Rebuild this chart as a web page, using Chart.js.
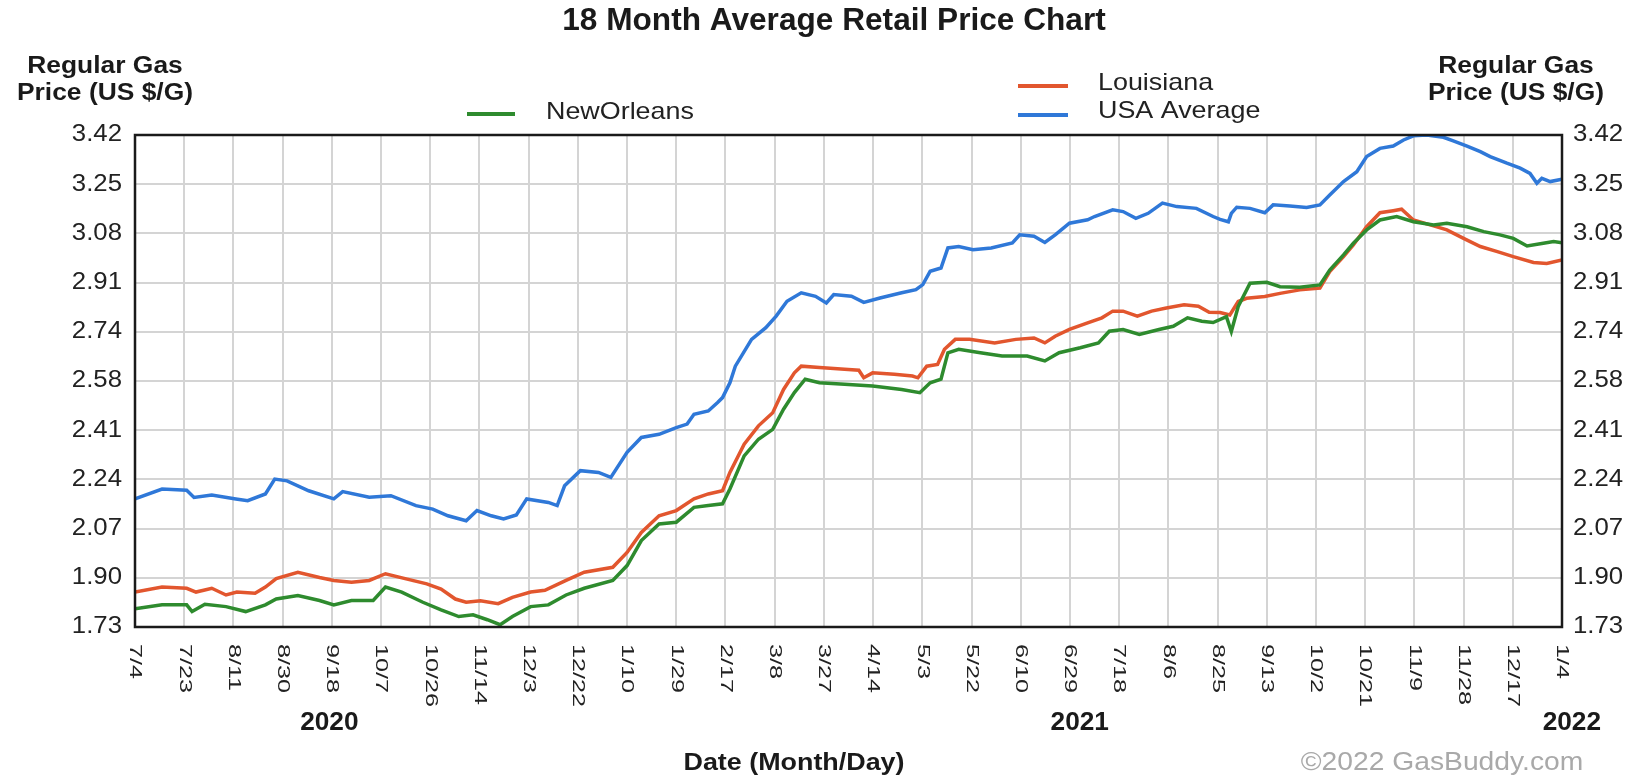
<!DOCTYPE html>
<html>
<head>
<meta charset="utf-8">
<title>18 Month Average Retail Price Chart</title>
<script src="https://cdn.jsdelivr.net/npm/chart.js@4.4.0/dist/chart.umd.min.js"></script>
<style>
    html, body { margin: 0; padding: 0; background: #fff; }
    #wrap { width: 1644px; height: 779px; }
</style>
</head>
<body>
<div id="wrap"><canvas id="gasChart" width="1644" height="779"></canvas></div>
<script>
// x axis: 30 gridlines, one every ~19 days from 7/4/2020 to 1/4/2022
const xLabels = ['7/4', '7/23', '8/11', '8/30', '9/18', '10/7', '10/26', '11/14', '12/3', '12/22',
    '1/10', '1/29', '2/17', '3/8', '3/27', '4/14', '5/3', '5/22', '6/10', '6/29',
    '7/18', '8/6', '8/25', '9/13', '10/2', '10/21', '11/9', '11/28', '12/17', '1/4'];
const yearLabels = ['2020', '2021', '2022'];
const yearPos = [3.95, 19.2, 29.2];

// y axis ticks (US $/G)
const yTickValues = [1.73, 1.899, 2.068, 2.237, 2.406, 2.575, 2.744, 2.913, 3.082, 3.251, 3.42];
const yTickLabels = ['1.73', '1.90', '2.07', '2.24', '2.41', '2.58', '2.74', '2.91', '3.08', '3.25', '3.42'];

// NewOrleans (x in gridline units, 0 = 7/4/2020)
const noX = [0, 0.55, 1.05, 1.16, 1.42, 1.85, 2.25, 2.65, 2.87, 3.31, 3.75, 4.04, 4.4, 4.84, 5.09, 5.42, 5.85,
    6.22, 6.58, 6.87, 7.16, 7.42, 7.67, 8.04, 8.4, 8.76, 9.13, 9.71, 10, 10.29, 10.65,
    11, 11.36, 11.65, 11.94, 12.09, 12.38, 12.67, 12.96, 13.18, 13.4, 13.62, 13.91, 14.42, 14.99, 15.58,
    15.95, 16.16, 16.38, 16.52, 16.74, 17.18, 17.62, 18.13, 18.49, 18.78, 19.21, 19.58, 19.8, 20.08,
    20.41, 20.81, 21.1, 21.39, 21.68, 21.91, 22.18, 22.28, 22.42, 22.66, 23.0, 23.27, 23.67, 24.08,
    24.28, 24.56, 24.76, 25.03, 25.3, 25.64, 25.98, 26.39, 26.66, 27.07, 27.41, 27.74, 28.01, 28.29,
    28.62, 28.83, 29];
const noY = [1.793, 1.806, 1.806, 1.783, 1.808, 1.80, 1.783, 1.806, 1.826, 1.838, 1.821, 1.806, 1.821, 1.821, 1.867, 1.85, 1.815,
    1.789, 1.766, 1.772, 1.755, 1.738, 1.766, 1.80, 1.806, 1.84, 1.863, 1.89, 1.941, 2.027, 2.084,
    2.09, 2.141, 2.147, 2.153, 2.204, 2.318, 2.375, 2.409, 2.478, 2.535, 2.581, 2.569, 2.564, 2.558, 2.546,
    2.535, 2.569, 2.581, 2.672, 2.684, 2.672, 2.661, 2.661, 2.644, 2.672, 2.689, 2.706, 2.746, 2.752,
    2.735, 2.752, 2.763, 2.792, 2.78, 2.776, 2.796, 2.745, 2.831, 2.911, 2.914, 2.899, 2.897, 2.905,
    2.956, 3.008, 3.048, 3.094, 3.128, 3.14, 3.122, 3.111, 3.117, 3.105, 3.088, 3.077, 3.065, 3.039,
    3.048, 3.054, 3.05];

// Louisiana
const laX = [0, 0.55, 1.05, 1.24, 1.56, 1.85, 2.07, 2.44, 2.65, 2.87, 3.31, 3.75, 4.04, 4.4, 4.76, 5.09, 5.49,
    5.93, 6.22, 6.51, 6.73, 7.02, 7.38, 7.67, 8.04, 8.33, 8.76, 9.13, 9.71, 10, 10.29, 10.65,
    11, 11.36, 11.65, 11.94, 12.09, 12.38, 12.67, 12.96, 13.18, 13.4, 13.54, 13.91, 14.42, 14.71, 14.81,
    14.99, 15.43, 15.8, 15.91, 16.09, 16.31, 16.45, 16.67, 16.96, 17.47, 17.9, 18.27, 18.49, 18.7, 18.99,
    19.36, 19.65, 19.87, 20.08, 20.37, 20.66, 20.96, 21.32, 21.61, 21.83, 22.05, 22.25, 22.42, 22.59,
    22.96, 23.27, 23.67, 24.08, 24.28, 24.56, 24.76, 25.03, 25.3, 25.57, 25.74, 25.98, 26.39, 26.66,
    27, 27.34, 27.67, 28.01, 28.42, 28.69, 29];
const laY = [1.85, 1.867, 1.863, 1.85, 1.863, 1.84, 1.85, 1.846, 1.867, 1.896, 1.918, 1.90, 1.89, 1.884, 1.89, 1.913, 1.896,
    1.878, 1.86, 1.826, 1.815, 1.82, 1.81, 1.832, 1.85, 1.856, 1.89, 1.918, 1.935, 1.986, 2.055, 2.112,
    2.13, 2.17, 2.187, 2.198, 2.261, 2.358, 2.421, 2.466, 2.546, 2.603, 2.626, 2.621, 2.615, 2.612, 2.586,
    2.603, 2.598, 2.592, 2.586, 2.626, 2.632, 2.684, 2.718, 2.718, 2.706, 2.718, 2.723, 2.706, 2.729, 2.752,
    2.775, 2.792, 2.815, 2.815, 2.798, 2.815, 2.826, 2.837, 2.832, 2.811, 2.81, 2.802, 2.848, 2.859,
    2.865, 2.876, 2.888, 2.894, 2.951, 3.002, 3.042, 3.105, 3.153, 3.16, 3.165, 3.128, 3.108, 3.094,
    3.065, 3.037, 3.02, 3.002, 2.982, 2.979, 2.991];

// USA Average
const usaX = [0, 0.55, 1.05, 1.2, 1.56, 2.05, 2.29, 2.65, 2.84, 3.09, 3.53, 4.04, 4.22, 4.76, 5.2, 5.71, 6.05,
    6.36, 6.73, 6.95, 7.24, 7.49, 7.75, 7.96, 8.4, 8.58, 8.73, 9.05, 9.42, 9.67, 10, 10.29, 10.65,
    11, 11.22, 11.36, 11.65, 11.84, 11.94, 12.09, 12.2, 12.53, 12.82, 13.03, 13.25, 13.54, 13.83, 14.05,
    14.2, 14.56, 14.81, 15.14, 15.58, 15.87, 16.01, 16.16, 16.38, 16.52, 16.74, 17.03, 17.4, 17.83, 17.98,
    18.27, 18.49, 18.7, 18.99, 19.36, 19.5, 19.87, 20.08, 20.34, 20.59, 20.88, 21.17, 21.57, 21.91, 22.05,
    22.22, 22.28, 22.39, 22.66, 22.96, 23.13, 23.47, 23.81, 24.08, 24.28, 24.56, 24.83, 25.03, 25.3, 25.57,
    25.78, 25.98, 26.25, 26.59, 26.79, 27.07, 27.34, 27.54, 27.88, 28.15, 28.35, 28.49, 28.59, 28.76, 29];
const usaY = [2.17, 2.204, 2.20, 2.175, 2.183, 2.17, 2.164, 2.187, 2.238, 2.232, 2.198, 2.17, 2.195, 2.176, 2.181, 2.147, 2.135,
    2.112, 2.095, 2.13, 2.112, 2.101, 2.115, 2.17, 2.158, 2.147, 2.215, 2.267, 2.261, 2.244, 2.33, 2.381, 2.392,
    2.415, 2.427, 2.461, 2.472, 2.501, 2.518, 2.569, 2.626, 2.718, 2.758, 2.798, 2.849, 2.878, 2.866, 2.843,
    2.872, 2.866, 2.845, 2.86, 2.878, 2.889, 2.906, 2.952, 2.963, 3.032, 3.037, 3.026, 3.032, 3.049, 3.077,
    3.072, 3.051, 3.077, 3.117, 3.129, 3.14, 3.163, 3.157, 3.134, 3.151, 3.186, 3.174, 3.168, 3.14, 3.13,
    3.122, 3.151, 3.172, 3.168, 3.153, 3.18, 3.176, 3.171, 3.18, 3.214, 3.26, 3.294, 3.346, 3.374, 3.382,
    3.403, 3.417, 3.42, 3.412, 3.40, 3.382, 3.363, 3.346, 3.323, 3.306, 3.288, 3.254, 3.271, 3.26, 3.268];

const seriesNames = ['NewOrleans', 'Louisiana', 'USA Average'];
const seriesColors = ['#2e8b2e', '#e2562e', '#2f78d8'];

function toPoints(xs, ys) {
    return xs.map((x, i) => ({ x: x, y: ys[i] }));
}

// draw text with a horizontal stretch, the source image is a bit wide
function drawText(ctx, s, x, y, opts) {
    ctx.save();
    ctx.translate(x, y);
    if (opts.rot) ctx.rotate(opts.rot);
    ctx.scale(opts.sx || 1, 1);
    ctx.font = opts.font;
    ctx.fillStyle = opts.color || '#1a1a1a';
    ctx.textAlign = opts.align || 'center';
    ctx.textBaseline = opts.baseline || 'middle';
    ctx.fillText(s, 0, 0);
    ctx.restore();
}

const FONT = '"Liberation Sans", Arial, sans-serif';

const textLayer = {
    id: 'textLayer',
    afterDraw(chart) {
        const ctx = chart.ctx;
        const a = chart.chartArea;
        const xs = chart.scales.x;
        const ys = chart.scales.y;

        // frame
        ctx.save();
        ctx.strokeStyle = '#1a1a1a';
        ctx.lineWidth = 2.5;
        ctx.strokeRect(a.left, a.top, a.right - a.left, a.bottom - a.top);
        ctx.restore();

        // title
        drawText(ctx, '18 Month Average Retail Price Chart', 834, 21, { font: 'bold 31px ' + FONT, sx: 1.02 });

        // axis headers
        [105, 1516].forEach(cx => {
            drawText(ctx, 'Regular Gas', cx, 73, { font: 'bold 24px ' + FONT, sx: 1.1, baseline: 'alphabetic' });
            drawText(ctx, 'Price (US $/G)', cx, 100, { font: 'bold 24px ' + FONT, sx: 1.1, baseline: 'alphabetic' });
        });

        // y tick labels, both sides
        ys.ticks.forEach((t, i) => {
            const py = ys.getPixelForValue(t.value);
            drawText(ctx, yTickLabels[i], a.left - 13, py, { font: '23px ' + FONT, sx: 1.12, align: 'right', color: '#222' });
            drawText(ctx, yTickLabels[i], a.right + 11, py, { font: '23px ' + FONT, sx: 1.12, align: 'left', color: '#222' });
        });

        // x tick labels, rotated clockwise
        xLabels.forEach((lab, i) => {
            const px = xs.getPixelForValue(i);
            drawText(ctx, lab, px, a.bottom + 17, { font: '17px ' + FONT, sx: 1.48, align: 'left', rot: Math.PI / 2, color: '#222' });
        });

        // years
        yearLabels.forEach((yr, i) => {
            drawText(ctx, yr, xs.getPixelForValue(yearPos[i]), 723, { font: 'bold 25px ' + FONT, sx: 1.05 });
        });

        drawText(ctx, 'Date (Month/Day)', 794, 763, { font: 'bold 24px ' + FONT, sx: 1.12 });
        drawText(ctx, '\u00A92022 GasBuddy.com', 1442, 763, { font: '25px ' + FONT, sx: 1.13, color: '#a9a9a9' });

        // legend
        const legend = [
            { x1: 467, x2: 515, y: 114, tx: 546, ty: 112 },
            { x1: 1018, x2: 1068, y: 86, tx: 1098, ty: 83 },
            { x1: 1018, x2: 1068, y: 115, tx: 1098, ty: 111 }
        ];
        legend.forEach((l, i) => {
            ctx.save();
            ctx.strokeStyle = seriesColors[i];
            ctx.lineWidth = 4;
            ctx.beginPath();
            ctx.moveTo(l.x1, l.y);
            ctx.lineTo(l.x2, l.y);
            ctx.stroke();
            ctx.restore();
            drawText(ctx, seriesNames[i], l.tx, l.ty, { font: '24px ' + FONT, sx: 1.12, align: 'left', color: '#222' });
        });
    }
};

const ctx = document.getElementById('gasChart');
new Chart(ctx, {
    type: 'line',
    data: {
        datasets: [
            { label: seriesNames[0], data: toPoints(noX, noY), borderColor: seriesColors[0] },
            { label: seriesNames[1], data: toPoints(laX, laY), borderColor: seriesColors[1] },
            { label: seriesNames[2], data: toPoints(usaX, usaY), borderColor: seriesColors[2] }
        ]
    },
    options: {
        responsive: false,
        animation: false,
        devicePixelRatio: 1,
        layout: { padding: { left: 135, right: 82, top: 135, bottom: 152 } },
        elements: {
            line: { borderWidth: 3.5, tension: 0 },
            point: { radius: 0 }
        },
        plugins: {
            legend: { display: false },
            tooltip: { enabled: false },
            title: { display: false }
        },
        scales: {
            x: {
                type: 'linear',
                min: 0,
                max: xLabels.length - 1,
                afterBuildTicks: axis => { axis.ticks = xLabels.map((l, i) => ({ value: i })); },
                ticks: { display: false },
                border: { display: false },
                grid: { color: '#d4d4d4', lineWidth: 2, drawTicks: false }
            },
            y: {
                min: yTickValues[0],
                max: yTickValues[yTickValues.length - 1],
                afterBuildTicks: axis => { axis.ticks = yTickValues.map(v => ({ value: v })); },
                ticks: { display: false },
                border: { display: false },
                grid: { color: '#d4d4d4', lineWidth: 2, drawTicks: false }
            }
        }
    },
    plugins: [textLayer]
});
</script>
</body>
</html>
